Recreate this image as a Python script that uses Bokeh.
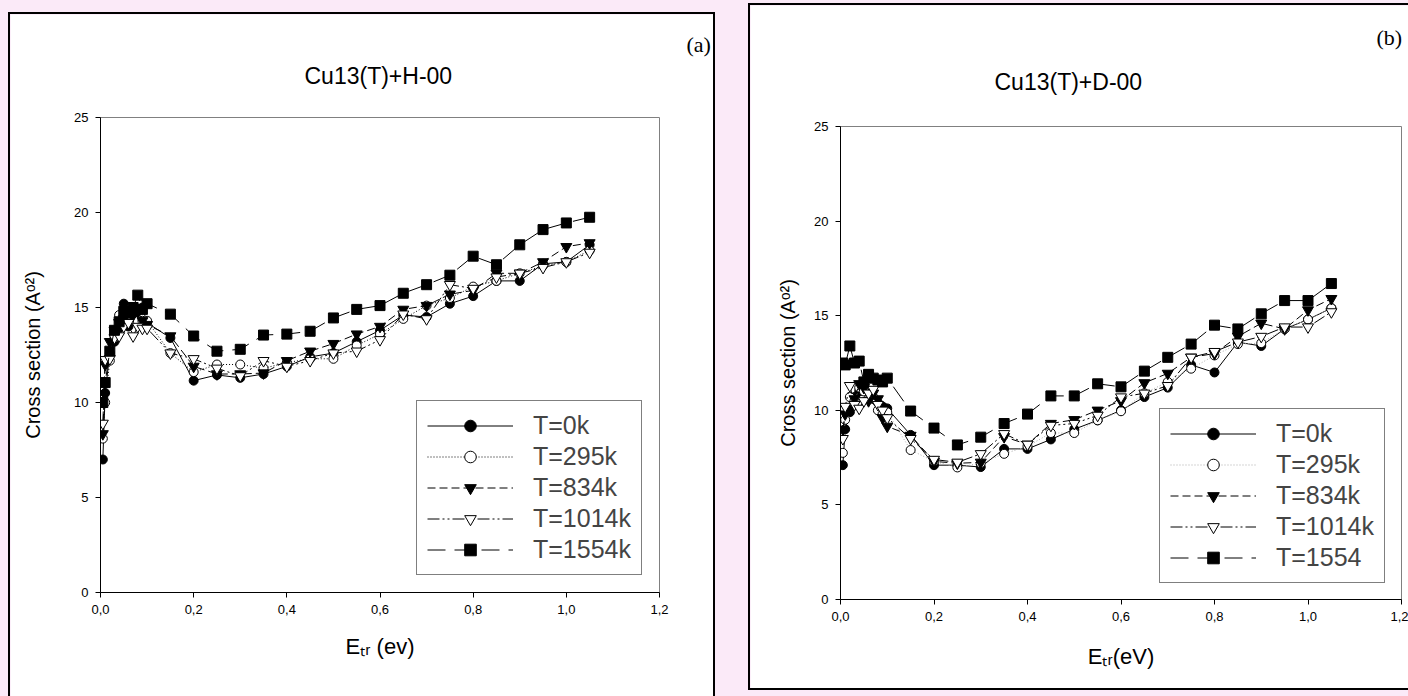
from bokeh.plotting import figure
from bokeh.models import Range1d, FixedTicker, CustomJSTickFormatter, Title
from bokeh.embed import file_html
from bokeh.resources import INLINE

# ---------------- data ----------------
energy = [0.005, 0.01, 0.02, 0.03, 0.04, 0.05, 0.06, 0.07, 0.08, 0.09, 0.10,
          0.15, 0.20, 0.25, 0.30, 0.35, 0.40, 0.45, 0.50, 0.55, 0.60, 0.65,
          0.70, 0.75, 0.80, 0.85, 0.90, 0.95, 1.00, 1.05]

# panel (a) Cu13(T)+H-00
h_T0 = [7.0, 10.5, 12.6, 13.2, 13.9, 15.2, 14.0, 14.9, 14.8, 15.0, 14.2,
        13.4, 11.15, 11.45, 11.3, 11.5, 11.9, 12.4, 12.6, 13.2, 13.8, 14.6,
        14.5, 15.2, 15.6, 16.4, 16.4, 17.3, 17.4, 18.3]
h_T295 = [8.1, 10.0, 12.2, 13.4, 14.6, 14.7, 14.5, 14.6, 14.3, 14.3, 14.3,
          12.6, 11.6, 12.0, 12.0, 11.8, 12.1, 12.3, 12.3, 13.0, 13.6, 14.4,
          15.1, 15.5, 16.1, 16.4, 16.8, 17.2, 17.4, 18.0]
h_T834 = [8.35, 12.0, 13.2, 13.8, 14.2, 14.4, 14.9, 14.6, 14.8, 14.3, 14.1,
          13.5, 11.9, 11.5, 11.5, 11.55, 12.2, 12.7, 13.1, 13.6, 14.0, 14.9,
          15.1, 15.7, 15.9, 16.8, 16.8, 17.4, 18.2, 18.4]
h_T1014 = [8.9, 12.25, 12.3, 13.4, 13.5, 14.0, 14.2, 13.5, 14.0, 13.9, 13.9,
           12.6, 12.3, 11.8, 11.4, 12.2, 11.9, 12.2, 12.6, 12.7, 13.3, 14.65,
           14.4, 16.2, 16.0, 16.6, 16.8, 17.1, 17.4, 17.9]
h_T1554 = [10.0, 11.05, 12.7, 13.8, 14.25, 14.8, 14.7, 15.0, 15.65, 14.9, 15.2,
           14.65, 13.5, 12.7, 12.8, 13.55, 13.6, 13.75, 14.45, 14.9, 15.1, 15.75,
           16.2, 16.7, 17.7, 17.25, 18.3, 19.1, 19.45, 19.75]

# panel (b) Cu13(T)+D-00
d_T0 = [7.1, 9.0, 9.9, 10.7, 11.0, 11.3, 10.9, 10.6, 10.4, 10.2, 10.1,
        8.7, 7.1, 7.1, 7.0, 7.96, 7.96, 8.46, 9.0, 9.47, 10.0, 10.7,
        11.2, 12.4, 12.0, 13.6, 13.4, 14.3, 14.8, 15.4]
d_T295 = [7.75, 9.5, 10.7, 10.5, 11.2, 11.0, 10.6, 10.7, 10.0, 9.8, 9.9,
          7.9, 7.3, 6.98, 7.2, 7.7, 8.1, 8.8, 8.8, 9.47, 9.95, 10.9,
          11.5, 12.2, 12.9, 13.5, 13.55, 14.3, 14.8, 15.4]
d_T834 = [9.0, 9.8, 10.1, 10.6, 11.4, 11.2, 10.5, 10.9, 10.6, 9.6, 9.15,
          8.67, 7.3, 7.2, 7.25, 8.6, 8.2, 9.3, 9.5, 10.0, 10.5, 11.45,
          11.95, 12.8, 13.0, 13.9, 14.6, 14.3, 15.3, 15.9]
d_T1014 = [8.5, 10.2, 11.3, 10.3, 10.1, 10.5, 10.9, 11.1, 10.3, 10.0, 9.6,
           8.5, 7.4, 7.25, 7.7, 8.76, 8.2, 9.2, 9.3, 9.73, 10.7, 10.9,
           11.3, 12.8, 13.1, 13.6, 13.9, 14.4, 14.4, 15.2]
d_T1554 = [12.5, 12.4, 13.4, 12.5, 12.6, 11.5, 11.9, 11.7, 11.6, 11.5, 11.7,
           9.96, 9.06, 8.17, 8.58, 9.3, 9.8, 10.76, 10.76, 11.4, 11.24, 12.07,
           12.8, 13.5, 14.5, 14.3, 15.1, 15.8, 15.8, 16.7]

labels_a = ["T=0k", "T=295k", "T=834k", "T=1014k", "T=1554k"]
labels_b = ["T=0k", "T=295k", "T=834k", "T=1014k", "T=1554"]
x_ticks = [0, 0.2, 0.4, 0.6, 0.8, 1.0, 1.2]
y_ticks = [0, 5, 10, 15, 20, 25]

# ---------------- styles ----------------
FONT = "Liberation Sans"
line_styles = ["solid", "1 2", "8 4", "12 3 2 3 2 3", "18 9"]
marker_styles = [
    dict(marker="circle", size=9, fill_color="black"),
    dict(marker="circle", size=9, fill_color="white"),
    dict(marker="inverted_triangle", size=11, fill_color="black"),
    dict(marker="inverted_triangle", size=11, fill_color="white"),
    dict(marker="square", size=10, fill_color="black"),
]


def make_panel(width, height, borders, css, series, labels, dotted_color,
               title, title_offset, title_standoff, tag, tag_offset,
               tag_standoff, xlabel, xlab_standoff, ylab_standoff,
               legend_margin):
    left, right, top, bottom = borders
    p = figure(width=width, height=height, output_backend="svg",
               toolbar_location=None,
               x_range=Range1d(0, 1.2), y_range=Range1d(0, 25),
               min_border_left=left, min_border_right=right,
               min_border_top=top, min_border_bottom=bottom,
               background_fill_color="white", border_fill_color="white",
               outline_line_color="#808080", outline_line_width=1,
               styles=css)
    p.xgrid.visible = False
    p.ygrid.visible = False

    for i, (ys, lab) in enumerate(zip(series, labels)):
        color = dotted_color if i == 1 else "black"
        p.line(energy, ys, line_color=color, line_width=1,
               line_dash=line_styles[i], legend_label=lab)
        p.scatter(energy, ys, line_color="black", line_width=1,
                  legend_label=lab, **marker_styles[i])

    p.xaxis.ticker = FixedTicker(ticks=x_ticks)
    p.yaxis.ticker = FixedTicker(ticks=y_ticks)
    p.xaxis.formatter = CustomJSTickFormatter(
        code="return tick.toFixed(1).replace('.', ',');")
    for ax in (p.xaxis[0], p.yaxis[0]):
        ax.axis_line_color = "black"
        ax.major_tick_line_color = "black"
        ax.major_tick_out = 5
        ax.major_tick_in = 0
        ax.minor_tick_line_color = None
        ax.major_label_text_font = FONT
        ax.major_label_text_font_size = "13px"
        ax.major_label_text_color = "black"
        ax.major_label_standoff = 7
        ax.axis_label_text_font = FONT
        ax.axis_label_text_font_style = "normal"
        ax.axis_label_text_color = "black"
    p.yaxis.axis_label = "Cross section (A\u1d52\u00b2)"
    p.yaxis.axis_label_text_font_size = "20px"
    p.yaxis.axis_label_standoff = ylab_standoff
    p.xaxis.axis_label = xlabel
    p.xaxis.axis_label_text_font_size = "22px"
    p.xaxis.axis_label_standoff = xlab_standoff

    p.add_layout(Title(text=title, align="left", offset=title_offset,
                       standoff=title_standoff, text_font=FONT,
                       text_font_size="23px", text_font_style="normal",
                       text_color="black"), "above")
    p.add_layout(Title(text=tag, align="left", offset=tag_offset,
                       standoff=tag_standoff, text_font="Liberation Serif",
                       text_font_size="22px", text_font_style="normal",
                       text_color="black"), "above")

    lg = p.legend[0]
    lg.location = "bottom_right"
    lg.margin = legend_margin
    lg.border_line_color = "black"
    lg.border_line_width = 1
    lg.background_fill_color = "white"
    lg.background_fill_alpha = 1
    lg.label_text_font = FONT
    lg.label_text_font_size = "25px"
    lg.glyph_width = 86
    lg.glyph_height = 29
    lg.label_height = 29
    lg.label_standoff = 20
    lg.spacing = 2
    lg.padding = 10
    return p


css_a = {"position": "absolute", "left": "8px", "top": "12px",
         "box-sizing": "content-box",
         "border-top": "2px solid black", "border-left": "2px solid black",
         "border-right": "2px solid black"}
css_b = {"position": "absolute", "left": "748px", "top": "3px",
         "box-sizing": "content-box",
         "border-top": "2px solid black", "border-left": "2px solid black",
         "border-bottom": "2px solid black"}

pa = make_panel(
    703, 682, (90, 58, 103, 106), css_a,
    [h_T0, h_T295, h_T834, h_T1014, h_T1554], labels_a, "black",
    "Cu13(T)+H-00", 204, 58, "(a)", 586, -50,
    "E\u209c\u1d63 (ev)", 17, 27, 17)

pb = make_panel(
    658, 683, (90, 9, 121, 93), css_b,
    [d_T0, d_T295, d_T834, d_T1014, d_T1554], labels_b, "#aaaaaa",
    "Cu13(T)+D-00", 154, 64, "(b)", 536, -30,
    "E\u209c\u1d63(eV)", 20, 12, 16)

html = file_html((pa, pb), INLINE, title="Cu13 cross sections")
html = html.replace(
    "</head>",
    "<style>html,body{background:#fbeaf8;overflow:hidden;margin:0;}</style></head>", 1)
open("out.html", "w").write(html)
